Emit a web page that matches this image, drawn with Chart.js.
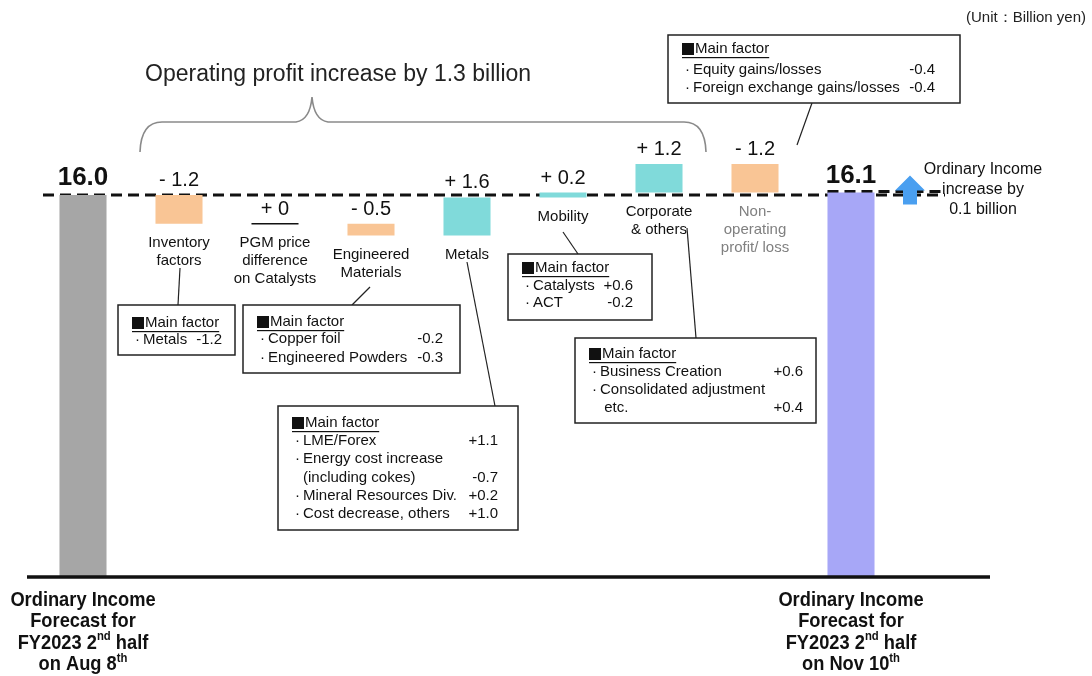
<!DOCTYPE html>
<html>
<head>
<meta charset="utf-8">
<script src="https://cdn.jsdelivr.net/npm/chart.js@4.4.0/dist/chart.umd.min.js"></script>
<style>
  html, body { margin: 0; padding: 0; background: #fff; }
  #wrap { width: 1092px; height: 676px; position: relative; }
</style>
</head>
<body>
<div id="wrap"><canvas id="bridge"></canvas></div>
<script>
// Ordinary income bridge: Aug 8 forecast -> Nov 10 forecast (billion yen)
const categories = [
  ["Ordinary Income", "Forecast for", "FY2023 2nd half", "on Aug 8th"],
  ["Inventory", "factors"],
  ["PGM price", "difference", "on Catalysts"],
  ["Engineered", "Materials"],
  ["Metals"],
  ["Mobility"],
  ["Corporate", "& others"],
  ["Non-", "operating", "profit/ loss"],
  ["Ordinary Income", "Forecast for", "FY2023 2nd half", "on Nov 10th"],
];
const startValue = 16.0;
const endValue = 16.1;
const changes = [-1.2, 0, -0.5, 1.6, 0.2, 1.2, -1.2];

// main factor notes
const factorsInventory = [[["Metals"], "-1.2"]];
const factorsEngineered = [[["Copper foil"], "-0.2"], [["Engineered Powders"], "-0.3"]];
const factorsMetals = [
  [["LME/Forex"], "+1.1"],
  [["Energy cost increase", "(including cokes)"], "-0.7"],
  [["Mineral Resources Div."], "+0.2"],
  [["Cost decrease, others"], "+1.0"],
];
const factorsMobility = [[["Catalysts"], "+0.6"], [["ACT"], "-0.2"]];
const factorsCorporate = [[["Business Creation"], "+0.6"], [["Consolidated adjustment", " etc."], "+0.4"]];
const factorsNonOp = [[["Equity gains/losses"], "-0.4"], [["Foreign exchange gains/losses"], "-0.4"]];

// build floating bars from the values
const bars = [[0, startValue]];
let running = startValue;
changes.forEach(function (c) {
  bars.push([running, running + c]);
  running += c;
});
bars.push([0, endValue]);

const colors = ["#a6a6a6"].concat(
  changes.map(function (c) { return c < 0 ? "#f9c595" : c > 0 ? "#80dada" : "rgba(0,0,0,0)"; }),
  ["#a7a7f7"]
);
const valueLabels = [startValue.toFixed(1)].concat(
  changes.map(function (c) { return (c < 0 ? "- " : "+ ") + (c === 0 ? "0" : Math.abs(c).toFixed(1)); }),
  [endValue.toFixed(1)]
);

const FONT = "'Liberation Sans', Arial, sans-serif";

// bold condensed text with ordinal superscripts (2nd, 8th ...)
function drawSup(ctx, text, cx, cy, size, sx) {
  const m = text.match(/^(.*?\d)(st|nd|rd|th)(.*)$/);
  const parts = m ? [[m[1], false], [m[2], true], [m[3], false]] : [[text, false]];
  const big = "bold " + size + "px " + FONT;
  const small = "bold " + Math.round(size * 0.6) + "px " + FONT;
  let total = 0;
  parts.forEach(function (p) { ctx.font = p[1] ? small : big; total += ctx.measureText(p[0]).width; });
  ctx.save();
  ctx.translate(cx, cy);
  ctx.scale(sx, 1);
  let x = -total / 2;
  ctx.textAlign = "left";
  ctx.textBaseline = "middle";
  parts.forEach(function (p) {
    ctx.font = p[1] ? small : big;
    ctx.fillText(p[0], x, p[1] ? -size * 0.3 : 0);
    x += ctx.measureText(p[0]).width;
  });
  ctx.restore();
}

function drawBox(ctx, box, rows) {
  ctx.save();
  ctx.fillStyle = "#fff";
  ctx.fillRect(box.x, box.y, box.w, box.h);
  ctx.strokeStyle = "#222";
  ctx.lineWidth = 1.5;
  ctx.strokeRect(box.x, box.y, box.w, box.h);
  ctx.fillStyle = "#111";
  ctx.font = "15px " + FONT;
  ctx.textBaseline = "middle";
  ctx.textAlign = "left";
  // title
  const ty = box.y + box.titleY;
  ctx.fillRect(box.x + 14, ty - 6, 12, 12);
  ctx.fillText("Main factor", box.x + 27, ty);
  const tw = ctx.measureText("Main factor").width;
  ctx.fillRect(box.x + 14, ty + 8, tw + 13, 1.2);
  let y = box.y + box.rowY;
  rows.forEach(function (r) {
    r[0].forEach(function (line, k) {
      if (k === 0) ctx.fillText("\u00b7", box.x + 17, y);
      ctx.textAlign = "left";
      ctx.fillText(line, box.x + 25, y);
      if (k === r[0].length - 1) {
        ctx.textAlign = "right";
        ctx.fillText(r[1], box.x + box.w - box.padR, y);
        ctx.textAlign = "left";
      }
      y += box.gap;
    });
  });
  ctx.restore();
}

function line(ctx, x1, y1, x2, y2, color, w) {
  ctx.beginPath();
  ctx.moveTo(x1, y1);
  ctx.lineTo(x2, y2);
  ctx.strokeStyle = color;
  ctx.lineWidth = w;
  ctx.stroke();
}

function barBoxes(chart) {
  return chart.getDatasetMeta(0).data.map(function (b) {
    return { x: b.x, w: b.width, top: Math.min(b.y, b.base), bottom: Math.max(b.y, b.base) };
  });
}

const annotationsPlugin = {
  id: "bridgeNotes",
  beforeDatasetsDraw: function (chart) {
    const ctx = chart.ctx;
    const yScale = chart.scales.y;
    const pts = barBoxes(chart);
    ctx.save();
    // dashed reference lines behind the bars
    ctx.setLineDash([11, 6]);
    const y0 = yScale.getPixelForValue(startValue);
    const y1 = yScale.getPixelForValue(endValue);
    line(ctx, 43, y0, 945, y0, "#111", 3);
    line(ctx, pts[8].x - pts[8].w / 2, y1 - 1, 945, y1 - 1, "#111", 3);
    ctx.restore();
  },
  afterDatasetsDraw: function (chart) {
    const ctx = chart.ctx;
    const yScale = chart.scales.y;
    const pts = barBoxes(chart);
    const y1 = yScale.getPixelForValue(endValue);
    ctx.save();

    // zero-change marker
    changes.forEach(function (c, i) {
      if (c === 0) {
        const p = pts[i + 1];
        line(ctx, p.x - p.w / 2, p.top, p.x + p.w / 2, p.top, "#111", 1.5);
      }
    });

    // bottom axis
    line(ctx, 27, yScale.getPixelForValue(0), 990, yScale.getPixelForValue(0), "#111", 3.5);

    // value labels
    ctx.fillStyle = "#111";
    ctx.textAlign = "center";
    ctx.textBaseline = "alphabetic";
    valueLabels.forEach(function (t, i) {
      const total = i === 0 || i === valueLabels.length - 1;
      ctx.font = total ? "bold 26px " + FONT : "20px " + FONT;
      ctx.fillText(t, pts[i].x, pts[i].top - (total ? 10 : 9));
    });

    // category labels under delta bars
    ctx.font = "15px " + FONT;
    ctx.textBaseline = "middle";
    for (let i = 1; i < categories.length - 1; i++) {
      ctx.fillStyle = i === 7 ? "#808080" : "#111";
      categories[i].forEach(function (t, k) {
        ctx.fillText(t, pts[i].x, pts[i].bottom + 19 + k * 18);
      });
    }

    // total labels under axis
    ctx.fillStyle = "#111";
    [0, categories.length - 1].forEach(function (i) {
      categories[i].forEach(function (t, k) {
        drawSup(ctx, t, pts[i].x, 600 + k * 21.5, 21, 0.87);
      });
    });

    // brace and heading
    ctx.beginPath();
    ctx.moveTo(140, 152);
    ctx.quadraticCurveTo(141, 122, 162, 122);
    ctx.lineTo(296, 122);
    ctx.quadraticCurveTo(310, 120, 312, 97);
    ctx.quadraticCurveTo(314, 120, 328, 122);
    ctx.lineTo(684, 122);
    ctx.quadraticCurveTo(705, 122, 706, 152);
    ctx.strokeStyle = "#8a8a8a";
    ctx.lineWidth = 1.6;
    ctx.stroke();
    ctx.fillStyle = "#222";
    ctx.font = "23px " + FONT;
    ctx.textAlign = "left";
    ctx.textBaseline = "middle";
    ctx.fillText("Operating profit increase by 1.3 billion", 145, 75);

    ctx.font = "15px " + FONT;
    ctx.textAlign = "right";
    ctx.fillText("(Unit\uff1aBillion yen)", 1086, 18);

    // increase arrow and note
    const ax = 910;
    ctx.fillStyle = "#4a9ff0";
    ctx.beginPath();
    ctx.moveTo(ax, y1 - 17);
    ctx.lineTo(ax + 15, y1 - 2);
    ctx.lineTo(ax + 7, y1 - 2);
    ctx.lineTo(ax + 7, y1 + 12);
    ctx.lineTo(ax - 7, y1 + 12);
    ctx.lineTo(ax - 7, y1 - 2);
    ctx.lineTo(ax - 15, y1 - 2);
    ctx.closePath();
    ctx.fill();
    ctx.fillStyle = "#111";
    ctx.font = "16px " + FONT;
    ctx.textAlign = "center";
    ["Ordinary Income", "increase by", "0.1 billion"].forEach(function (t, k) {
      ctx.fillText(t, 983, 170 + k * 20);
    });

    // leader lines
    line(ctx, 180, 268, 178, 305, "#222", 1.2);
    line(ctx, 370, 287, 352, 305, "#222", 1.2);
    line(ctx, 467, 262, 495, 406, "#222", 1.2);
    line(ctx, 563, 232, 578, 254, "#222", 1.2);
    line(ctx, 687, 228, 696, 338, "#222", 1.2);
    line(ctx, 812, 103, 797, 145, "#222", 1.2);

    // factor boxes
    drawBox(ctx, { x: 118, y: 305, w: 117, h: 50, titleY: 18, rowY: 35, gap: 18, padR: 13 }, factorsInventory);
    drawBox(ctx, { x: 243, y: 305, w: 217, h: 68, titleY: 17, rowY: 34, gap: 19, padR: 17 }, factorsEngineered);
    drawBox(ctx, { x: 278, y: 406, w: 240, h: 124, titleY: 17, rowY: 35, gap: 18.3, padR: 20 }, factorsMetals);
    drawBox(ctx, { x: 508, y: 254, w: 144, h: 66, titleY: 14, rowY: 32, gap: 17, padR: 19 }, factorsMobility);
    drawBox(ctx, { x: 575, y: 338, w: 241, h: 85, titleY: 16, rowY: 34, gap: 18, padR: 13 }, factorsCorporate);
    drawBox(ctx, { x: 668, y: 35, w: 292, h: 68, titleY: 14, rowY: 35, gap: 18, padR: 25 }, factorsNonOp);

    ctx.restore();
  },
};

new Chart(document.getElementById("bridge"), {
  type: "bar",
  data: {
    labels: categories,
    datasets: [
      {
        data: bars,
        backgroundColor: colors,
        borderWidth: 0,
        barPercentage: 0.49,
        categoryPercentage: 1,
      },
    ],
  },
  options: {
    responsive: true,
    maintainAspectRatio: false,
    animation: false,
    layout: { padding: { left: 35, right: 193, top: 4, bottom: 99 } },
    plugins: { legend: { display: false }, tooltip: { enabled: false } },
    scales: {
      x: { display: false, offset: true },
      y: { display: false, min: 0, max: 24 },
    },
  },
  plugins: [annotationsPlugin],
});
</script>
</body>
</html>
